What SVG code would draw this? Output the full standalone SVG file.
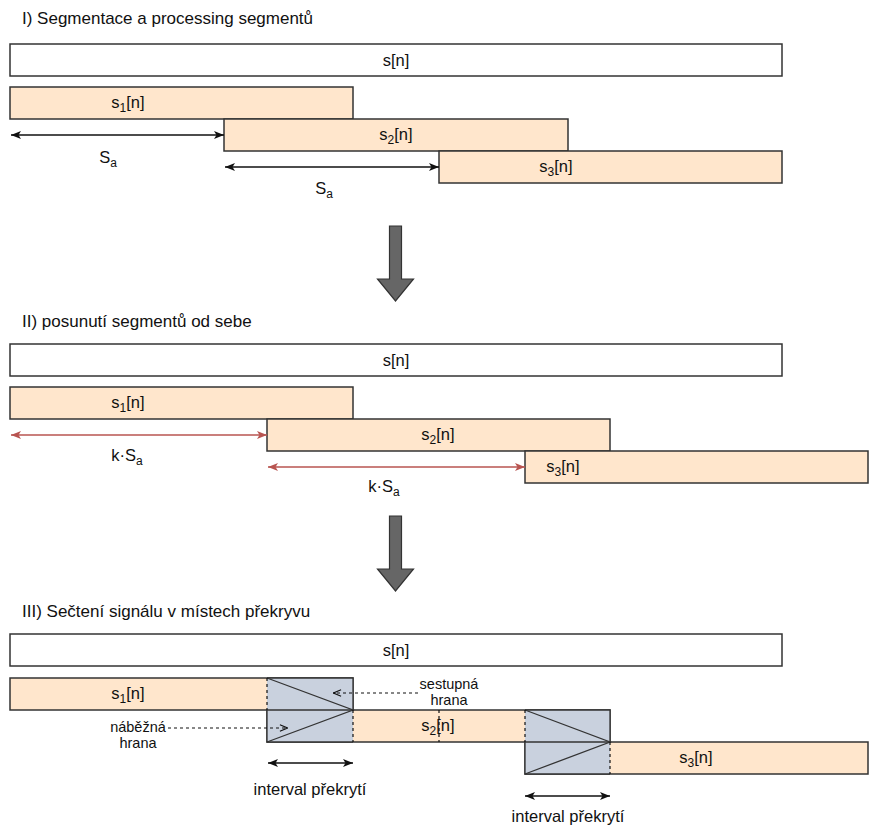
<svg xmlns="http://www.w3.org/2000/svg" width="870" height="830" viewBox="0 0 870 830">
<style>
text{font-family:"Liberation Sans",Arial,sans-serif;fill:#111}
.t{font-size:17px}
.l{font-size:16.5px;text-anchor:middle}
.sm{font-size:14.5px;text-anchor:middle}
.sub{font-size:12px}
.box{fill:#fff;stroke:#333;stroke-width:1.5}
.seg{fill:#ffe6cc;stroke:#333;stroke-width:1.5}
.ovf{fill:#c9d1de;stroke:none}
.ovs{fill:none;stroke:#333;stroke-width:1.3}
.dash{stroke:#111;stroke-width:1.2;stroke-dasharray:3,3;fill:none}
.blk{stroke:#111;stroke-width:1.5;fill:none}
.red{stroke:#b85450;stroke-width:1.5;fill:none}
.big{fill:#666;stroke:#333;stroke-width:1.2}
</style>
<defs>
<marker id="ab" viewBox="0 0 10 10" refX="10" refY="5" markerWidth="10" markerHeight="10" markerUnits="userSpaceOnUse" orient="auto-start-reverse"><path d="M0,1 L10,5 L0,9 L2.5,5 Z" fill="#111"/></marker>
<marker id="ar" viewBox="0 0 10 10" refX="10" refY="5" markerWidth="10" markerHeight="10" markerUnits="userSpaceOnUse" orient="auto-start-reverse"><path d="M0,1 L10,5 L0,9 L2.5,5 Z" fill="#b85450"/></marker>
<marker id="ao" viewBox="0 0 10 10" refX="10" refY="5" markerWidth="9" markerHeight="9" markerUnits="userSpaceOnUse" orient="auto"><path d="M1,1.5 L9.5,5 L1,8.5" fill="none" stroke="#111" stroke-width="1.2"/></marker>
</defs>

<!-- Section I -->
<text class="t" x="22" y="24">I) Segmentace a processing segmentů</text>
<g id="I-s"><rect class="box" x="10" y="44" width="772" height="32"/><text class="l" x="396" y="66">s[n]</text></g>
<g id="I-s1"><rect class="seg" x="10" y="87" width="343" height="32"/><text class="l" x="128" y="108">s<tspan class="sub" dy="4">1</tspan><tspan dy="-4">[n]</tspan></text></g>
<g id="I-s2"><rect class="seg" x="224" y="119" width="344" height="32"/><text class="l" x="396" y="140">s<tspan class="sub" dy="4">2</tspan><tspan dy="-4">[n]</tspan></text></g>
<g id="I-s3"><rect class="seg" x="439" y="151" width="343" height="32"/><text class="l" x="556" y="172">s<tspan class="sub" dy="4">3</tspan><tspan dy="-4">[n]</tspan></text></g>
<g id="I-dims">
<text class="l" x="108" y="163">S<tspan class="sub" dy="4">a</tspan></text>
<text class="l" x="324" y="194">S<tspan class="sub" dy="4">a</tspan></text>
</g>

<g id="arrow1"><path class="big" d="M389.5,226 H401.5 V279 H413.5 L395.5,301 L377.5,279 H389.5 Z"/></g>

<!-- Section II -->
<text class="t" x="22" y="327">II) posunutí segmentů od sebe</text>
<g id="II-s"><rect class="box" x="10" y="344" width="772" height="32"/><text class="l" x="396" y="366">s[n]</text></g>
<g id="II-s1"><rect class="seg" x="10" y="387" width="343" height="32"/><text class="l" x="128" y="408">s<tspan class="sub" dy="4">1</tspan><tspan dy="-4">[n]</tspan></text></g>
<g id="II-s2"><rect class="seg" x="267" y="419" width="343" height="32"/><text class="l" x="438" y="440">s<tspan class="sub" dy="4">2</tspan><tspan dy="-4">[n]</tspan></text></g>
<g id="II-s3"><rect class="seg" x="525" y="451" width="343" height="32"/><text class="l" x="563" y="472">s<tspan class="sub" dy="4">3</tspan><tspan dy="-4">[n]</tspan></text></g>
<g id="II-dims">
<text class="l" x="127" y="461">k·S<tspan class="sub" dy="4">a</tspan></text>
<text class="l" x="384" y="492">k·S<tspan class="sub" dy="4">a</tspan></text>
</g>

<g id="arrow2"><path class="big" d="M389.5,516 H401.5 V569 H413.5 L395.5,591 L377.5,569 H389.5 Z"/></g>

<!-- Section III -->
<text class="t" x="22" y="617">III) Sečtení signálu v místech překryvu</text>
<g id="III-s"><rect class="box" x="10" y="634" width="772" height="32"/><text class="l" x="396" y="656">s[n]</text></g>
<g id="III-s1"><rect class="seg" x="10" y="678" width="343" height="32"/><text class="l" x="128" y="699">s<tspan class="sub" dy="4">1</tspan><tspan dy="-4">[n]</tspan></text></g>
<g id="III-s2"><rect class="seg" x="267" y="710" width="343" height="32"/><text class="l" x="438" y="731">s<tspan class="sub" dy="4">2</tspan><tspan dy="-4">[n]</tspan></text></g>
<g id="III-s3"><rect class="seg" x="525" y="742" width="343" height="32"/><text class="l" x="696" y="763">s<tspan class="sub" dy="4">3</tspan><tspan dy="-4">[n]</tspan></text></g>
<g id="overlap1">
<rect class="ovf" x="267" y="678" width="86" height="64"/>
<path class="ovs" d="M267,678 H353 V710 M267,710 H353 M267,710 V742 H353"/>
<path class="ovs" d="M267,678 L353,710 L267,742"/>
</g>
<g id="overlap2">
<rect class="ovf" x="525" y="710" width="85" height="64"/>
<path class="ovs" d="M525,710 H610 V742 M525,742 H610 M525,742 V774 H610"/>
<path class="ovs" d="M525,710 L610,742 L525,774"/>
</g>
<g id="dashes">
<path class="dash" d="M267,678 V710 M353,710 V742 M439,710 V742 M525,710 V742 M610,742 V774"/>
</g>
<g id="labels-III">
<text class="sm" x="449" y="689">sestupná</text>
<text class="sm" x="449" y="705">hrana</text>
<text class="sm" x="138" y="732">náběžná</text>
<text class="sm" x="138" y="748">hrana</text>
<text class="l" x="310" y="795">interval překrytí</text>
<text class="l" x="568" y="822">interval překrytí</text>
</g>

<!-- connectors -->
<g id="connectors">
<line class="blk" x1="11" y1="135" x2="224" y2="135" marker-start="url(#ab)" marker-end="url(#ab)"/>
<line class="blk" x1="225" y1="167" x2="439" y2="167" marker-start="url(#ab)" marker-end="url(#ab)"/>
<line class="red" x1="11" y1="435" x2="267" y2="435" marker-start="url(#ar)" marker-end="url(#ar)"/>
<line class="red" x1="268" y1="467" x2="525" y2="467" marker-start="url(#ar)" marker-end="url(#ar)"/>
<line class="dash" x1="418" y1="693" x2="333" y2="693" marker-end="url(#ao)"/>
<line class="dash" x1="168" y1="728" x2="288" y2="728" marker-end="url(#ao)"/>
<line class="blk" x1="268" y1="763" x2="353" y2="763" marker-start="url(#ab)" marker-end="url(#ab)"/>
<line class="blk" x1="525" y1="796" x2="610" y2="796" marker-start="url(#ab)" marker-end="url(#ab)"/>
</g>
</svg>
